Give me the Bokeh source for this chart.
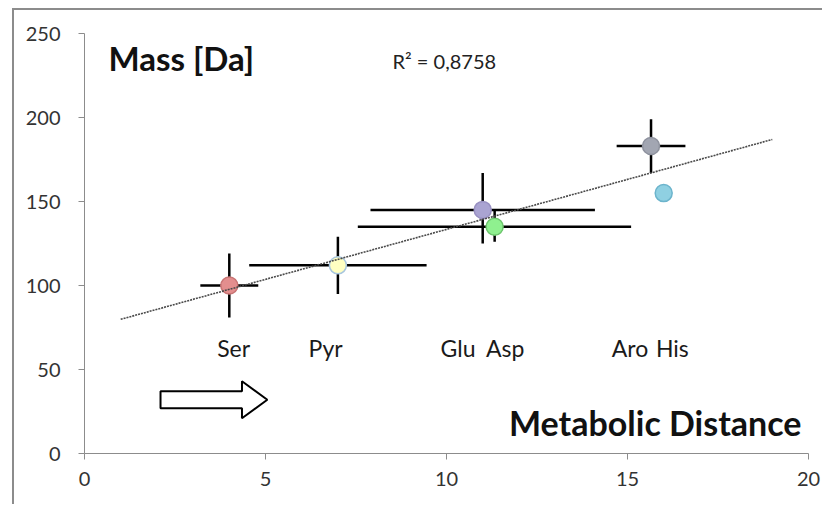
import numpy as np
from bokeh.plotting import figure
from bokeh.models import ColumnDataSource, FixedTicker, Label, InlineStyleSheet
from bokeh.core.properties import value
from bokeh.embed import file_html
from bokeh.resources import INLINE

# ---- data ----
names = ["Ser", "Pyr", "Glu", "Asp", "Aro", "His"]
dist = [4.0, 7.0, 11.0, 11.33, 15.65, 16.0]
mass = [100, 112, 145, 135, 183, 155]
dist_lo = [3.2, 4.55, 7.9, 7.55, 14.7, 16.0]
dist_hi = [4.8, 9.45, 14.1, 15.1, 16.6, 16.0]
mass_lo = [81, 95, 125, 126, 167, 155]
mass_hi = [119, 129, 167, 145, 199, 155]
fill_colors = ["#e38e8e", "#ffffc2", "#aaa4d2", "#8ff08f", "#a2a6b2", "#8fd0e2"]
line_colors = ["#c87474", "#a8c6de", "#9890c2", "#6cc46c", "#8e929e", "#6cb4cc"]
label_names = ["Ser", "Pyr", "Glu", "Asp", "Aro", "His"]
label_x = [4.12, 6.66, 10.32, 11.62, 15.07, 16.24]
label_y = [63, 63, 63, 63, 63, 63]
trend_x_span = [1, 19]
r2_text = "R² = 0,8758"
x_ticks = [0, 5, 10, 15, 20]
y_ticks = [0, 50, 100, 150, 200, 250]

FONT = "Lato"
FL, FB = 84, 453  # frame left / bottom in page pixels (screen-unit labels are frame-relative)

p = figure(width=834, height=506, x_range=(0, 20), y_range=(0, 250),
           output_backend="svg", toolbar_location=None,
           min_border_left=84, min_border_right=26, min_border_top=33, min_border_bottom=53)
p.outline_line_color = None
p.xgrid.visible = False
p.ygrid.visible = False
p.background_fill_color = "white"
p.border_fill_color = "white"

for ax in (p.xaxis[0], p.yaxis[0]):
    ax.axis_line_color = "#8c8c8c"
    ax.major_tick_line_color = "#8c8c8c"
    ax.minor_tick_line_color = None
    ax.major_tick_in = 0
    ax.major_tick_out = 6
    ax.major_label_text_font = FONT
    ax.major_label_text_font_size = "20px"
    ax.major_label_text_color = "#333333"
p.xaxis.ticker = FixedTicker(ticks=x_ticks)
p.yaxis.ticker = FixedTicker(ticks=y_ticks)
p.xaxis.major_label_standoff = 12
p.yaxis.major_label_standoff = 18

src = ColumnDataSource(dict(x=dist, y=mass, xlo=dist_lo, xhi=dist_hi, ylo=mass_lo, yhi=mass_hi,
                            fc=fill_colors, lc=line_colors))

# error bars
p.segment(x0="xlo", y0="y", x1="xhi", y1="y", source=src, line_color="black", line_width=2.5)
p.segment(x0="x", y0="ylo", x1="x", y1="yhi", source=src, line_color="black", line_width=2.5)

# markers
p.scatter(x="x", y="y", source=src, size=17, fill_color="fc", line_color="lc", line_width=1.5)

# linear trend line fitted to the data
slope, intercept = np.polyfit(dist, mass, 1)
tx = np.array(trend_x_span, dtype=float)
p.line(tx, slope * tx + intercept, line_color="#4a4a4a", line_width=1.6, line_dash="2 1")

# category labels
p.text(x=label_x, y=label_y, text=label_names, text_font=value(FONT), text_font_size="23px",
       text_color="#1a1a1a", text_align="center", text_baseline="middle")

# titles
p.add_layout(Label(x=108 - FL, y=FB - 57, x_units="screen", y_units="screen", text="Mass [Da]",
                   text_font=FONT, text_font_size="33px", text_font_style="bold",
                   text_color="#111111", text_baseline="middle"))
p.add_layout(Label(x=392 - FL, y=FB - 60, x_units="screen", y_units="screen", text=r2_text,
                   text_font=FONT, text_font_size="20px", text_color="#222222",
                   text_baseline="middle"))
p.add_layout(Label(x=801 - FL, y=FB - 422, x_units="screen", y_units="screen", text="Metabolic Distance",
                   text_font=FONT, text_font_size="34px", text_font_style="bold",
                   text_color="#111111", text_baseline="middle", text_align="right"))

# hollow block arrow (decoration)
ax0, ax1, axh = 2.1, 5.05, 4.35
ay, sh, hh = 32, 5.0, 11.0
p.patch([ax0, axh, axh, ax1, axh, axh, ax0],
        [ay - sh, ay - sh, ay - hh, ay, ay + hh, ay + sh, ay + sh],
        fill_color="white", line_color="black", line_width=2)

# outer chart border (chart-area frame, cut off at right and bottom as in the source)
p.stylesheets = [InlineStyleSheet(css="""
:host { position: relative; }
:host::after {
  content: ""; position: absolute; left: 12px; top: 8px; width: 810px; height: 496px;
  border-style: solid; border-color: #8c8c8c; border-width: 2px 0 0 2px;
  pointer-events: none; box-sizing: border-box;
}
""")]

open("out.html", "w").write(file_html(p, INLINE))
